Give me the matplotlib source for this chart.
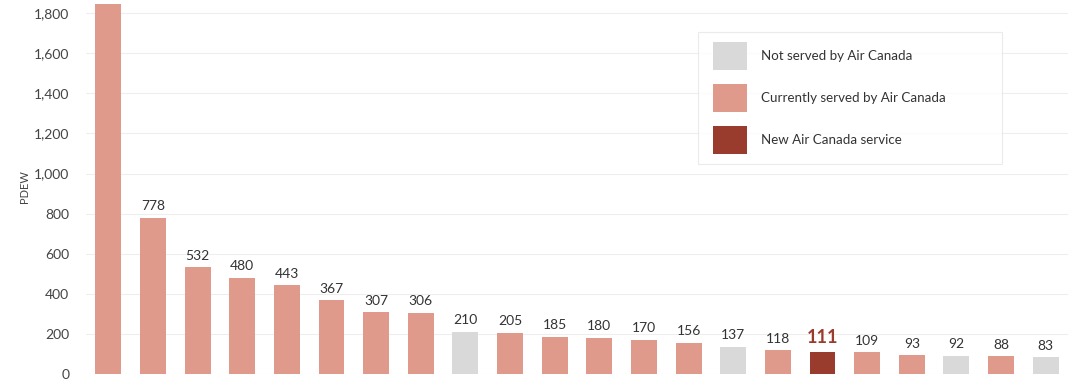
import numpy as np
import matplotlib.pyplot as plt
from matplotlib.patches import Patch, Rectangle
from matplotlib.legend_handler import HandlerPatch

plt.rcParams['font.family'] = ['Lato', 'DejaVu Sans']

values = [1845, 778, 532, 480, 443, 367, 307, 306, 210, 205, 185, 180,
          170, 156, 137, 118, 111, 109, 93, 92, 88, 83]
# 0 = not served, 1 = currently served, 2 = new service
status = [1, 1, 1, 1, 1, 1, 1, 1, 0, 1, 1, 1,
          1, 1, 0, 1, 2, 1, 1, 0, 1, 0]
show_label = [False] + [True] * 21

colors = {0: '#d9d9d9', 1: '#df9a8c', 2: '#9a3c2d'}
legend_labels = ['Not served by Air Canada', 'Currently served by Air Canada',
                 'New Air Canada service']

fig = plt.figure(figsize=(10.8, 3.8), dpi=100)
# axes spans from the top edge down to the zero line
ax = fig.add_axes([86 / 1080, 6 / 380, (1068 - 86) / 1080, 374 / 380])

x = np.arange(len(values))
ax.bar(x, values, width=0.58, color=[colors[s] for s in status], zorder=2)

for i, v in enumerate(values):
    if not show_label[i]:
        continue
    if status[i] == 2:
        ax.text(i, v + 28, str(v), ha='center', va='bottom', fontsize=13,
                fontweight='bold', color='#9a3c2d')
    else:
        ax.text(i, v + 28, str(v), ha='center', va='bottom', fontsize=10,
                color='#333333')

ax.set_xlim(-0.5, len(values) - 0.5)
ax.set_ylim(0, 1866)
ax.set_yticks(np.arange(0, 1801, 200))
ax.set_yticklabels([f'{t:,}' for t in range(0, 1801, 200)])
ax.tick_params(axis='y', length=0, pad=12, labelsize=10, labelcolor='#444444')
ax.set_xticks([])
ax.grid(axis='y', color='#eeeeee', linewidth=0.8, zorder=0)
for s in ax.spines.values():
    s.set_visible(False)
ax.set_ylabel('PDEW', fontsize=8, color='#444444')
ax.yaxis.set_label_coords(-(86 - 30) / 982, 0.5)


# legend swatch pushed a little to the right inside its slot
def shifted_box(legend, orig_handle, xdescent, ydescent, width, height, fontsize):
    return Rectangle((-xdescent + 3.6, -ydescent), width - 3.6, height)


handles = [Patch(facecolor=colors[k], edgecolor='none') for k in (0, 1, 2)]
leg_x0 = (698 - 86) / 982
leg_top = 1 - 32 / 374
leg = ax.legend(handles, legend_labels, loc='upper left', mode='expand',
                bbox_to_anchor=(leg_x0, leg_top - 0.4, 304 / 982, 0.4),
                frameon=True, fontsize=9.6, handlelength=2.92, handleheight=2.8,
                labelspacing=1.1, borderpad=0.75, handletextpad=1.05,
                labelcolor='#333333', fancybox=False, borderaxespad=0,
                handler_map={Patch: HandlerPatch(patch_func=shifted_box)})
leg.get_frame().set_edgecolor('#e6e6e6')
leg.get_frame().set_linewidth(0.8)

plt.savefig('out.png', dpi=100)
